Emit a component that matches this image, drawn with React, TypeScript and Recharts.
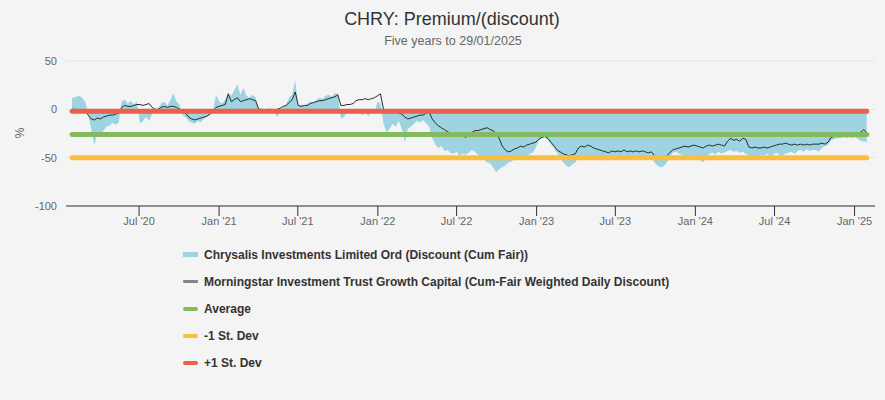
import { Area, CartesianGrid, ComposedChart, Line, ReferenceLine, XAxis, YAxis } from 'recharts';

// weekly-ish readings, one row per month
const dates = [
  '2020-01-29',
  '2020-02-07', '2020-02-14', '2020-02-21', '2020-02-28',
  '2020-03-06', '2020-03-13', '2020-03-20', '2020-03-27',
  '2020-04-03', '2020-04-10', '2020-04-17', '2020-04-24',
  '2020-05-01', '2020-05-08', '2020-05-15', '2020-05-22', '2020-05-29',
  '2020-06-05', '2020-06-12', '2020-06-19', '2020-06-26',
  '2020-07-03', '2020-07-10', '2020-07-17', '2020-07-24', '2020-07-31',
  '2020-08-07', '2020-08-14', '2020-08-21', '2020-08-28',
  '2020-09-04', '2020-09-11', '2020-09-18', '2020-09-25',
  '2020-10-02', '2020-10-09', '2020-10-16', '2020-10-23', '2020-10-30',
  '2020-11-06', '2020-11-13', '2020-11-20', '2020-11-27',
  '2020-12-04', '2020-12-11', '2020-12-18', '2020-12-25',
  '2021-01-01', '2021-01-08', '2021-01-15', '2021-01-22', '2021-01-29',
  '2021-02-05', '2021-02-12', '2021-02-19', '2021-02-26',
  '2021-03-05', '2021-03-12', '2021-03-19', '2021-03-26',
  '2021-04-02', '2021-04-09', '2021-04-16', '2021-04-23', '2021-04-30',
  '2021-05-07', '2021-05-14', '2021-05-21', '2021-05-28',
  '2021-06-04', '2021-06-11', '2021-06-18', '2021-06-25',
  '2021-07-02', '2021-07-09', '2021-07-16', '2021-07-23', '2021-07-30',
  '2021-08-06', '2021-08-13', '2021-08-20', '2021-08-27',
  '2021-09-03', '2021-09-10', '2021-09-17', '2021-09-24',
  '2021-10-01', '2021-10-08', '2021-10-15', '2021-10-22', '2021-10-29',
  '2021-11-05', '2021-11-12', '2021-11-19', '2021-11-26',
  '2021-12-03', '2021-12-10', '2021-12-17', '2021-12-24', '2021-12-31',
  '2022-01-07', '2022-01-14', '2022-01-21', '2022-01-28',
  '2022-02-04', '2022-02-11', '2022-02-18', '2022-02-25',
  '2022-03-04', '2022-03-11', '2022-03-18', '2022-03-25',
  '2022-04-01', '2022-04-08', '2022-04-15', '2022-04-22', '2022-04-29',
  '2022-05-06', '2022-05-13', '2022-05-20', '2022-05-27',
  '2022-06-03', '2022-06-10', '2022-06-17', '2022-06-24',
  '2022-07-01', '2022-07-08', '2022-07-15', '2022-07-22', '2022-07-29',
  '2022-08-05', '2022-08-12', '2022-08-19', '2022-08-26',
  '2022-09-02', '2022-09-09', '2022-09-16', '2022-09-23', '2022-09-30',
  '2022-10-07', '2022-10-14', '2022-10-21', '2022-10-28',
  '2022-11-04', '2022-11-11', '2022-11-18', '2022-11-25',
  '2022-12-02', '2022-12-09', '2022-12-16', '2022-12-23', '2022-12-30',
  '2023-01-06', '2023-01-13', '2023-01-20', '2023-01-27',
  '2023-02-03', '2023-02-10', '2023-02-17', '2023-02-24',
  '2023-03-03', '2023-03-10', '2023-03-17', '2023-03-24', '2023-03-31',
  '2023-04-07', '2023-04-14', '2023-04-21', '2023-04-28',
  '2023-05-05', '2023-05-12', '2023-05-19', '2023-05-26',
  '2023-06-02', '2023-06-09', '2023-06-16', '2023-06-23', '2023-06-30',
  '2023-07-07', '2023-07-14', '2023-07-21', '2023-07-28',
  '2023-08-04', '2023-08-11', '2023-08-18', '2023-08-25',
  '2023-09-01', '2023-09-08', '2023-09-15', '2023-09-22', '2023-09-29',
  '2023-10-06', '2023-10-13', '2023-10-20', '2023-10-27',
  '2023-11-03', '2023-11-10', '2023-11-17', '2023-11-24',
  '2023-12-01', '2023-12-08', '2023-12-15', '2023-12-22', '2023-12-29',
  '2024-01-05', '2024-01-12', '2024-01-19', '2024-01-26',
  '2024-02-02', '2024-02-09', '2024-02-16', '2024-02-23',
  '2024-03-01', '2024-03-08', '2024-03-15', '2024-03-22', '2024-03-29',
  '2024-04-05', '2024-04-12', '2024-04-19', '2024-04-26',
  '2024-05-03', '2024-05-10', '2024-05-17', '2024-05-24', '2024-05-31',
  '2024-06-07', '2024-06-14', '2024-06-21', '2024-06-28',
  '2024-07-05', '2024-07-12', '2024-07-19', '2024-07-26',
  '2024-08-02', '2024-08-09', '2024-08-16', '2024-08-23', '2024-08-30',
  '2024-09-06', '2024-09-13', '2024-09-20', '2024-09-27',
  '2024-10-04', '2024-10-11', '2024-10-18', '2024-10-25',
  '2024-11-01', '2024-11-08', '2024-11-15', '2024-11-22', '2024-11-29',
  '2024-12-06', '2024-12-13', '2024-12-20', '2024-12-27',
  '2025-01-03', '2025-01-10', '2025-01-17', '2025-01-22', '2025-01-29',
];

// Chrysalis discount (cum fair), %
const chryDiscount = [
  12,
  13, 14, 12, 8,
  -5, -20, -37, -25,
  -28, -22, -18, -17,
  -14, -16, -14, 8, 10,
  6, 9, 5, 8,
  -15, -12, -8, -12, -5,
  0, 1, 6, 8,
  4, 10, 17, 8,
  5, -6, -8, -12, -14,
  -15, -12, -13, -10,
  -8, -5, -2, 15,
  8, 6, 10, 17, 14,
  20, 26, 15, 22,
  14, 12, 15, 12,
  -3, -1, -2, -1, -3,
  -2, -8, -4, 2,
  5, 12, 15, 30,
  4, 5, 4, 6, 8,
  7, 10, 12, 11,
  14, 15, 13, 17,
  16, -10, -8, -3, -4,
  -2, -5, -3, -6,
  -4, -7, -3, -5, 8,
  6, -15, -24, -20,
  -15, -18, -12, -20,
  -34, -20, -18, -15,
  -12, -14, -11, -15, -18,
  -30, -36, -40, -38,
  -43, -42, -45, -46,
  -44, -48, -46, -47, -45,
  -42, -44, -47, -50,
  -52, -55, -56, -60, -65,
  -62, -60, -58, -55,
  -54, -52, -50, -48,
  -52, -50, -46, -45, -40,
  -32, -30, -29, -32,
  -36, -40, -45, -50,
  -55, -58, -60, -57, -55,
  -50, -48, -50, -52,
  -49, -51, -50, -52,
  -53, -50, -52, -50, -49,
  -48, -50, -47, -49,
  -48, -50, -47, -49,
  -48, -50, -52, -50, -55,
  -58, -60, -59, -55,
  -50, -45, -44, -46,
  -47, -48, -50, -49, -47,
  -48, -52, -55, -50,
  -46, -45, -47, -44,
  -46, -45, -43, -42, -44,
  -43, -45, -44, -46,
  -48, -49, -48, -50, -47,
  -48, -46, -49, -47,
  -45, -47, -48, -46,
  -45, -44, -46, -43, -42,
  -44, -41, -43, -42,
  -42, -44, -40, -38,
  -37, -32, -31, -30, -30,
  -29, -30, -29, -30,
  -29, -31, -33, -33, -34,
];

// Morningstar IT Growth Capital weighted discount, %
const sectorDiscount = [
  0,
  0, -1, 0, -2,
  -6, -10, -11, -9,
  -10, -8, -7, -6,
  -6, -5, -4, 2, 4,
  3, 3, 4, 5,
  5, 4, 5, 6, 2,
  0, 0, 2, 3,
  2, 3, 3, 2,
  0, -2, -4, -8, -10,
  -11, -10, -9, -8,
  -7, -5, -2, 2,
  3, 4, 5, 16, 8,
  10, 12, 8, 9,
  10, 11, 10, 9,
  0, 0, -1, 0, 0,
  -1, 0, 1, 3,
  4, 7, 10, 18,
  4, 3, 4, 4, 6,
  7, 8, 9, 9,
  10, 11, 12, 13,
  15, 4, 4, 5, 5,
  6, 9, 10, 10,
  11, 10, 11, 12, 14,
  16, 0, -3, -4,
  -3, -3, -4, -5,
  -8, -10, -9, -8,
  -7, -6, -6, -4, -3,
  -10, -14, -17, -19,
  -21, -23, -25, -27,
  -28, -28, -27, -29, -26,
  -24, -22, -22, -21,
  -20, -19, -21, -22, -25,
  -30, -38, -42, -44,
  -43, -41, -40, -38,
  -39, -37, -36, -35, -34,
  -31, -29, -28, -30,
  -34, -38, -42, -44,
  -46, -47, -48, -47, -46,
  -40, -38, -39, -37,
  -38, -40, -41, -42,
  -43, -44, -45, -43, -44,
  -43, -44, -42, -44,
  -43, -44, -43, -44,
  -43, -44, -45, -44, -48,
  -50, -50, -49, -48,
  -45, -42, -41, -40,
  -39, -38, -39, -38, -37,
  -38, -39, -40, -38,
  -37, -38, -37, -36,
  -37, -38, -33, -30, -32,
  -31, -33, -30, -31,
  -39, -40, -39, -40, -40,
  -39, -40, -39, -38,
  -37, -36, -36, -35,
  -36, -37, -36, -37, -36,
  -37, -36, -37, -36,
  -36, -36, -35, -36,
  -34, -29, -28, -27, -27,
  -26, -26, -26, -26,
  -26, -25, -23, -21, -24,
];

const AVERAGE = -26;
const PLUS_ONE_SD = -2;
const MINUS_ONE_SD = -50;

const xTickDates = [
  '2020-07-01', '2021-01-01', '2021-07-01', '2022-01-01', '2022-07-01',
  '2023-01-01', '2023-07-01', '2024-01-01', '2024-07-01', '2025-01-01',
];
const yTicks = [-100, -50, 0, 50];
const xRange = ['2020-01-15', '2025-02-17'];

const MONTHS = ['Jan', 'Feb', 'Mar', 'Apr', 'May', 'Jun', 'Jul', 'Aug', 'Sep', 'Oct', 'Nov', 'Dec'];

const toTime = (d: string) => Date.parse(d + 'T00:00:00Z');

const rows = dates.map((d, i) => ({
  t: toTime(d),
  chry: chryDiscount[i],
  sector: sectorDiscount[i],
}));

const firstT = rows[0].t;
const lastT = rows[rows.length - 1].t;

const formatTick = (t: number) => {
  const d = new Date(t);
  return `${MONTHS[d.getUTCMonth()]} '${String(d.getUTCFullYear()).slice(2)}`;
};

const FONT = "'Liberation Sans', Arial, Helvetica, sans-serif";

const legendItems = [
  { label: 'Chrysalis Investments Limited Ord (Discount (Cum Fair))', color: '#9ed3e1', h: 5, r: 0 },
  { label: 'Morningstar Investment Trust Growth Capital (Cum-Fair Weighted Daily Discount)', color: '#80868b', h: 3, r: 1 },
  { label: 'Average', color: '#84b95f', h: 4, r: 2 },
  { label: '-1 St. Dev', color: '#fbbd3c', h: 4, r: 2 },
  { label: '+1 St. Dev', color: '#eb604c', h: 4, r: 2 },
];

const statLines = [
  { y: AVERAGE, color: '#84b95f' },
  { y: MINUS_ONE_SD, color: '#fbbd3c' },
  { y: PLUS_ONE_SD, color: '#eb604c' },
];

export default function App() {
  return (
    <div style={{ position: 'relative', width: 885, height: 400, background: '#f4f4f4', fontFamily: FONT }}>
      <style>{'body{margin:0;background:#f4f4f4}'}</style>
      <ComposedChart
        width={885}
        height={400}
        data={rows}
        margin={{ top: 61, right: 10, bottom: 164, left: 0 }}
      >
        <CartesianGrid vertical={false} stroke="#e3e3e3" />
        <XAxis
          dataKey="t"
          type="number"
          domain={[toTime(xRange[0]), toTime(xRange[1])]}
          ticks={xTickDates.map(toTime)}
          tickFormatter={formatTick}
          height={30}
          stroke="#333"
          tickSize={10}
          tickMargin={1}
          tick={{ fill: '#666', fontSize: 11, fontFamily: FONT }}
        />
        <YAxis
          domain={[-100, 50]}
          ticks={yTicks}
          width={66}
          axisLine={false}
          tickLine={false}
          tickSize={0}
          tickMargin={9}
          tick={{ fill: '#666', fontSize: 11, fontFamily: FONT }}
        />
        <Area
          dataKey="chry"
          type="linear"
          baseValue={0}
          stroke="none"
          fill="#9ed3e1"
          fillOpacity={1}
          isAnimationActive={false}
        />
        <Line
          dataKey="sector"
          type="linear"
          stroke="#2b2b2b"
          strokeWidth={1}
          dot={false}
          isAnimationActive={false}
        />
        {statLines.map((s) => (
          <ReferenceLine
            key={s.y}
            segment={[{ x: firstT, y: s.y }, { x: lastT, y: s.y }]}
            stroke={s.color}
            strokeWidth={5}
            strokeLinecap="round"
            zIndex={450}
          />
        ))}
      </ComposedChart>

      <svg width={885} height={220} style={{ position: 'absolute', left: 0, top: 0, pointerEvents: 'none' }}>
        <text x={452} y={25} textAnchor="middle" fontSize={18} fill="#333" fontFamily={FONT}>
          CHRY: Premium/(discount)
        </text>
        <text x={453} y={45} textAnchor="middle" fontSize={12.5} fill="#666" fontFamily={FONT}>
          Five years to 29/01/2025
        </text>
        <text
          x={20}
          y={133}
          transform="rotate(-90 20 133)"
          textAnchor="middle"
          dominantBaseline="central"
          fontSize={12}
          fill="#666"
          fontFamily={FONT}
        >
          %
        </text>
      </svg>

      <div style={{ position: 'absolute', left: 183, top: 241 }}>
        {legendItems.map((it) => (
          <div key={it.label} style={{ display: 'flex', alignItems: 'center', height: 27 }}>
            <span
              style={{
                display: 'inline-block',
                width: 15,
                height: it.h,
                background: it.color,
                borderRadius: it.r,
                marginRight: 6,
              }}
            />
            <span style={{ fontSize: 12, fontWeight: 'bold', color: '#333' }}>{it.label}</span>
          </div>
        ))}
      </div>
    </div>
  );
}
